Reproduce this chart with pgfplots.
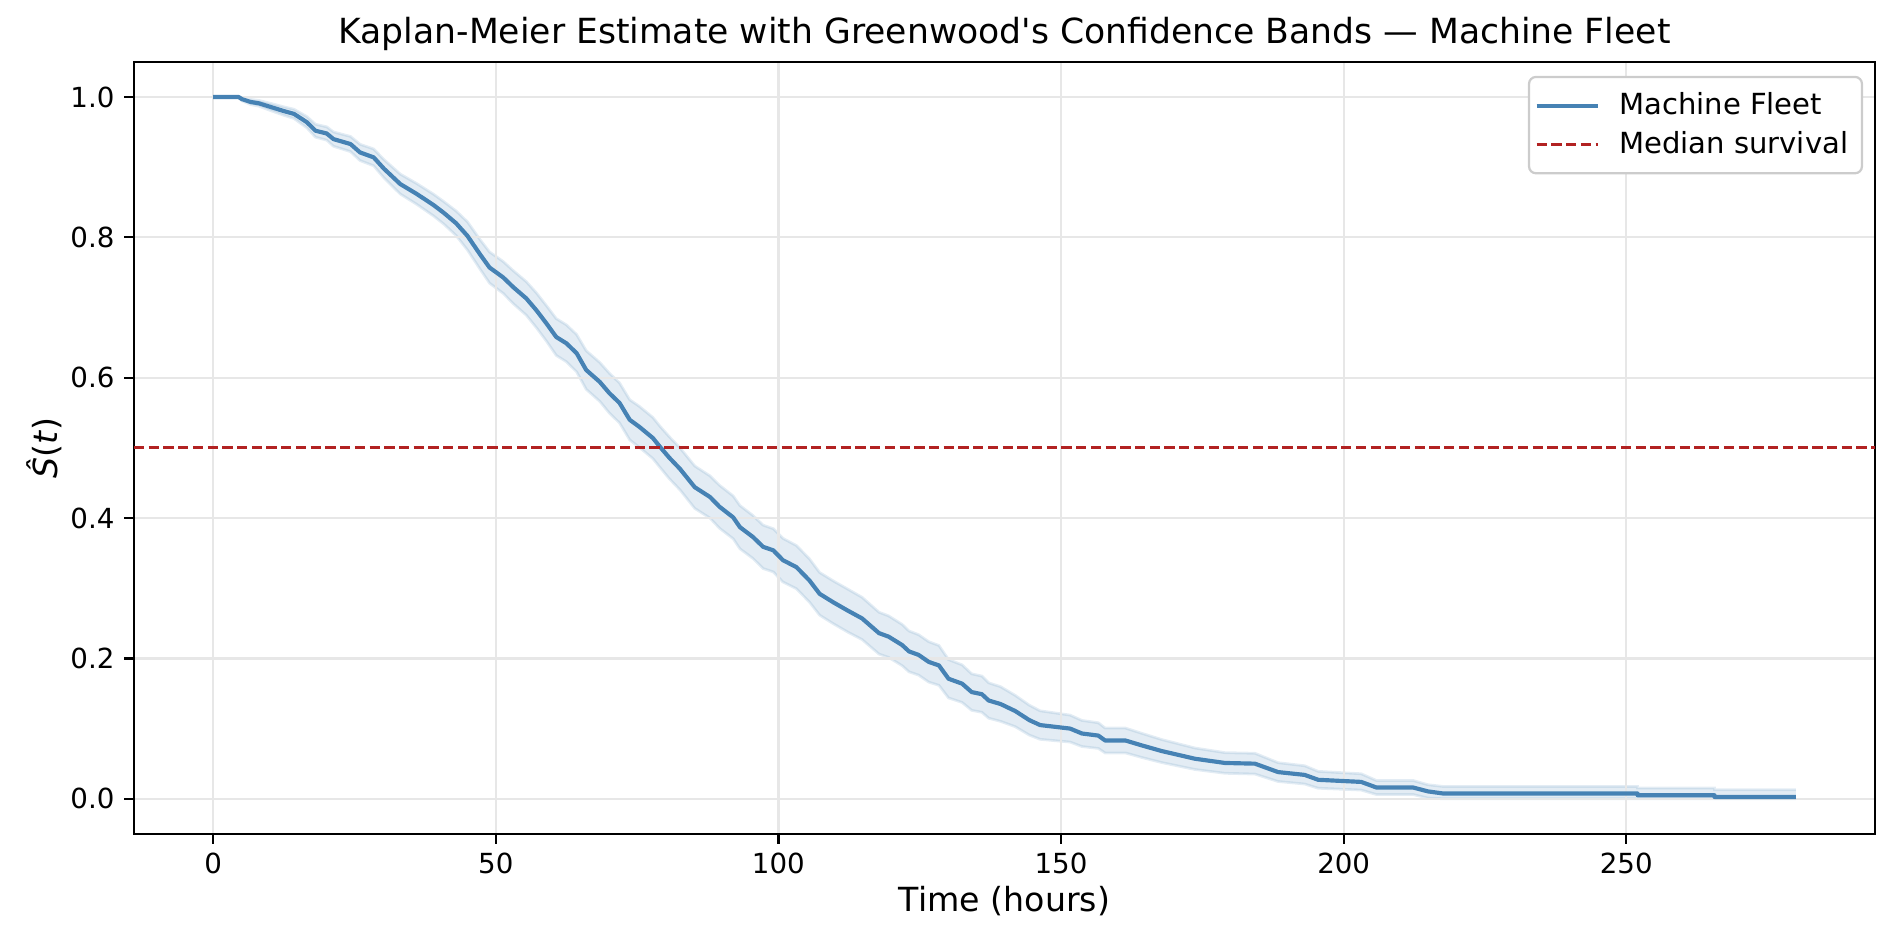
\documentclass[border=0pt]{standalone}
\usepackage{pgfplots}
\pgfplotsset{compat=1.18}
\usepackage{pgfplotstable}
\usepgfplotslibrary{fillbetween}
\usepackage{fontspec}
\setmainfont{DejaVu Sans}
\newfontfamily\djv{DejaVu Sans}
\definecolor{steelblue}{RGB}{70,130,180}
\definecolor{firebrick}{RGB}{178,34,34}
\definecolor{gridgray}{RGB}{231,231,231}

\pgfplotstableread{
t S lo hi
0 1.000 1.000 1.000
4.5 1.000 1.000 1.000
5.1 0.997 0.9946 0.9994
6.6 0.993 0.9894 0.9966
8.1 0.991 0.9869 0.9951
10.1 0.986 0.9809 0.9911
12.5 0.980 0.9740 0.9860
14.3 0.976 0.9694 0.9826
16.6 0.964 0.9560 0.9720
18.1 0.952 0.9428 0.9612
20.1 0.948 0.9385 0.9575
21.3 0.940 0.9298 0.9502
24.3 0.933 0.9222 0.9438
26.0 0.921 0.9094 0.9326
28.4 0.914 0.9020 0.9260
30.2 0.898 0.8850 0.9110
33.1 0.876 0.8618 0.8902
36.0 0.862 0.8472 0.8768
39.0 0.846 0.8305 0.8615
40.8 0.835 0.8190 0.8510
43.0 0.820 0.8025 0.8375
45.0 0.802 0.7819 0.8221
47.2 0.776 0.7550 0.7970
48.9 0.757 0.7348 0.7792
51.3 0.743 0.7203 0.7657
53.1 0.729 0.7055 0.7525
55.4 0.713 0.6891 0.7369
57.2 0.696 0.6712 0.7208
59.0 0.677 0.6517 0.7023
60.7 0.658 0.6318 0.6842
62.5 0.649 0.6227 0.6753
64.3 0.635 0.6084 0.6616
66.0 0.611 0.5835 0.6385
68.4 0.594 0.5663 0.6217
70.1 0.578 0.5496 0.6064
71.9 0.564 0.5355 0.5925
73.7 0.540 0.5114 0.5686
75.4 0.530 0.5008 0.5592
77.8 0.514 0.4847 0.5433
79.0 0.502 0.4727 0.5313
80.7 0.486 0.4561 0.5159
82.6 0.470 0.4401 0.4999
85.2 0.444 0.4138 0.4742
87.9 0.430 0.3999 0.4601
89.6 0.416 0.3854 0.4466
92.0 0.401 0.3705 0.4315
93.2 0.387 0.3562 0.4178
95.5 0.373 0.3424 0.4036
97.3 0.359 0.3281 0.3899
99.1 0.354 0.3232 0.3848
100.8 0.340 0.3089 0.3711
103.2 0.330 0.2992 0.3608
105.5 0.311 0.2802 0.3418
107.3 0.292 0.2616 0.3224
109.7 0.280 0.2495 0.3105
112.3 0.268 0.2374 0.2986
114.8 0.257 0.2269 0.2871
117.8 0.236 0.2062 0.2658
119.5 0.231 0.2014 0.2606
121.9 0.219 0.1896 0.2484
123.1 0.210 0.1809 0.2391
124.8 0.205 0.1762 0.2338
126.6 0.195 0.1662 0.2238
128.4 0.190 0.1616 0.2184
130.1 0.171 0.1437 0.1983
132.5 0.164 0.1372 0.1908
134.2 0.152 0.1260 0.1780
136.0 0.149 0.1232 0.1748
137.2 0.140 0.1148 0.1652
139.3 0.135 0.1103 0.1597
141.9 0.125 0.1027 0.1473
144.4 0.112 0.0907 0.1333
146.3 0.105 0.0847 0.1253
151.6 0.100 0.0808 0.1192
153.7 0.093 0.0744 0.1116
156.6 0.090 0.0717 0.1083
157.8 0.083 0.0653 0.1007
161.4 0.083 0.0653 0.1007
164.3 0.076 0.0588 0.0932
167.8 0.068 0.0516 0.0844
173.7 0.057 0.0417 0.0723
179.0 0.051 0.0363 0.0657
184.3 0.050 0.0352 0.0648
188.4 0.038 0.0246 0.0514
193.1 0.034 0.0210 0.0470
195.5 0.027 0.0150 0.0390
203.1 0.024 0.0124 0.0356
205.8 0.016 0.0060 0.0260
212.3 0.016 0.0060 0.0260
214.9 0.0105 0.0010 0.0200
217.6 0.0075 0.0000 0.0175
252.0 0.0075 0.0000 0.0175
252.0 0.0050 0.0000 0.0153
265.6 0.0050 0.0000 0.0153
265.6 0.0025 0.0000 0.0129
280.0 0.0025 0.0000 0.0129
}\kmtable

\begin{document}
\begin{tikzpicture}
\begin{axis}[
  set layers=standard,
  clip mode=individual,
  fill between/on layer=axis background,
  scale only axis,
  width=626.8bp, height=277.9bp,
  xmin=-14, xmax=294, ymin=-0.05, ymax=1.05,
  xtick={0,50,100,150,200,250},
  ytick={0,0.2,0.4,0.6,0.8,1.0},
  yticklabel style={/pgf/number format/.cd, fixed, fixed zerofill, precision=1},
  /pgf/number format/assume math mode=true,
  tick label style={font=\fontsize{10}{12}\selectfont, text=black},
  tick align=outside,
  major tick length=3.5bp,
  xtick pos=lower, ytick pos=left,
  tick style={black, line width=0.8bp},
  axis line style={black, line width=0.8bp},
  grid=major,
  grid style={gridgray, line width=0.8bp},
  xlabel={Time (hours)},
  ylabel={\textit{Ŝ}(\textit{t})},
  label style={font=\fontsize{12}{14}\selectfont},
  xlabel style={at={(axis description cs:0.5,-0.101)}, anchor=base},
  ylabel style={at={(axis description cs:-0.0442,0.5)}, anchor=base},
  title={Kaplan-Meier Estimate with {\djv Greenwood's} Confidence Bands — Machine Fleet},
  title style={font=\fontsize{12.5}{15}\selectfont, at={(axis description cs:0.5,1.003)}, anchor=base},
  legend cell align=left,
  legend style={at={(axis description cs:1,1)}, anchor=north east, xshift=-4.3bp, yshift=-5bp,
    draw=black!20, line width=0.8bp, rounded corners=2.5bp,
    font=\fontsize{10.5}{12.5}\selectfont, inner xsep=2bp, inner ysep=3.5bp,
    nodes={inner ysep=2.2bp, inner xsep=3bp},
    /tikz/every odd column/.append style={column sep=4bp}},
  legend image code/.code={\draw[#1] (0bp,0bp) -- (22bp,0bp);},
]
\addplot[name path=upper, steelblue, draw opacity=0.15, line width=1bp, on layer=axis background, forget plot] table[x=t,y=hi]{\kmtable};
\addplot[name path=lower, steelblue, draw opacity=0.15, line width=1bp, on layer=axis background, forget plot] table[x=t,y=lo]{\kmtable};
\addplot[fill=steelblue, fill opacity=0.15, draw=none, forget plot] fill between[of=upper and lower];
\addplot[steelblue, line width=1.5bp, line join=round] table[x=t,y=S]{\kmtable};
\addlegendentry{Machine Fleet}
\addplot[firebrick, line width=1bp, dash pattern=on 3.7bp off 1.6bp] coordinates {(-14,0.5) (294,0.5)};
\addlegendentry{Median survival}
\end{axis}
\pgfresetboundingbox
\path[use as bounding box] ([xshift=-48.24bp,yshift=-38.2bp]current axis.south west) rectangle ([xshift=7.2bp,yshift=22.3bp]current axis.north east);
\end{tikzpicture}
\end{document}
